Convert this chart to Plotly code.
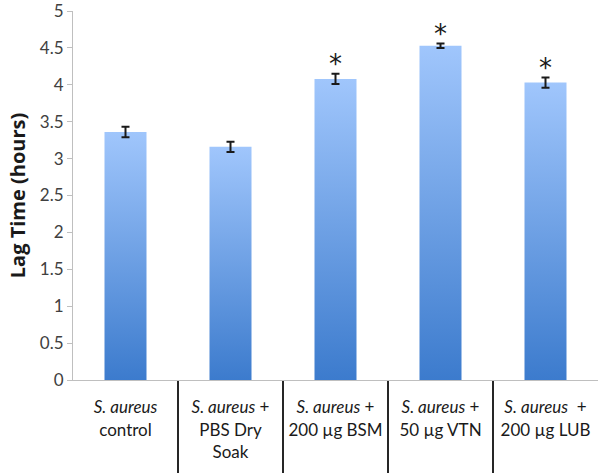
import plotly.graph_objects as go

categories = [
    "<i>S. aureus</i><br>control",
    "<i>S. aureus</i> +<br>PBS Dry<br>Soak",
    "<i>S. aureus</i> +<br>200 µg BSM",
    "<i>S. aureus</i> +<br>50 µg VTN",
    "<i>S. aureus</i>  +<br>200 µg LUB",
]
lag_time = [3.36, 3.16, 4.08, 4.53, 4.03]
lag_err = [0.07, 0.07, 0.07, 0.03, 0.07]
significant = [False, False, True, True, True]

FONT = "Lato, 'Open Sans', sans-serif"
half_w = 0.2
star_gap = 0.1

fig = go.Figure()

for i, (v, e) in enumerate(zip(lag_time, lag_err)):
    fig.add_trace(go.Scatter(
        x=[i - half_w, i + half_w, i + half_w, i - half_w, i - half_w],
        y=[0, 0, v, v, 0],
        fill="toself",
        mode="lines",
        line=dict(width=0, color="rgba(0,0,0,0)"),
        fillgradient=dict(type="vertical",
                          colorscale=[[0, "#3c7bcd"], [1, "#a0c6fc"]]),
        hoverinfo="skip",
        showlegend=False,
    ))

fig.add_trace(go.Scatter(
    x=list(range(len(lag_time))),
    y=lag_time,
    mode="markers",
    marker=dict(size=1, opacity=0),
    error_y=dict(type="data", array=lag_err, visible=True,
                 color="#1a1a1a", thickness=2, width=4),
    showlegend=False,
))

sig_x = [i for i, s in enumerate(significant) if s]
sig_y = [lag_time[i] + lag_err[i] + star_gap for i in sig_x]
fig.add_trace(go.Scatter(
    x=sig_x, y=sig_y, mode="text", text=["*"] * len(sig_x),
    textposition="middle center", cliponaxis=False,
    textfont=dict(size=26, color="#1a1a1a", family="DejaVu Sans"),
    showlegend=False,
))

# dummy trace for divider axis
fig.add_trace(go.Scatter(x=[0], y=[0], xaxis="x2", mode="markers",
                         marker=dict(opacity=0), showlegend=False,
                         hoverinfo="skip"))

fig.update_layout(
    width=600, height=476,
    margin=dict(l=73, r=2, t=11, b=96),
    paper_bgcolor="white", plot_bgcolor="white",
    font=dict(family=FONT, color="#404040", size=17),
    xaxis=dict(range=[-0.5, len(categories) - 0.5],
               tickvals=list(range(len(categories))), ticktext=categories,
               tickangle=0, automargin=False,
               showline=True, linecolor="#bfbfbf", linewidth=1,
               ticks="outside", ticklen=12, tickcolor="rgba(0,0,0,0)",
               showgrid=False, zeroline=False,
               tickfont=dict(size=17, color="#1a1a1a", family=FONT)),
    xaxis2=dict(range=[-0.5, len(categories) - 0.5], overlaying="x",
                anchor="y", side="bottom",
                tickvals=[i + 0.5 for i in range(len(categories) - 1)],
                showticklabels=False, ticks="outside", ticklen=92,
                tickwidth=2, tickcolor="#262626", showgrid=False,
                showline=False, zeroline=False),
    yaxis=dict(range=[0, 5], dtick=0.5, showline=True, linecolor="#bfbfbf",
               linewidth=1, ticks="outside", ticklen=5, tickcolor="#bfbfbf",
               showgrid=False, zeroline=False, ticklabeloverflow="allow",
               automargin=False,
               tickfont=dict(size=17, color="#404040", family=FONT),
               title=dict(text="<b>Lag Time (hours)</b>", standoff=8,
                          font=dict(size=20, color="#1a1a1a",
                                    family="'Open Sans', sans-serif"))),
)

fig.write_html("out.html", config={"displayModeBar": False},
               post_script="document.body.style.margin='0';")
